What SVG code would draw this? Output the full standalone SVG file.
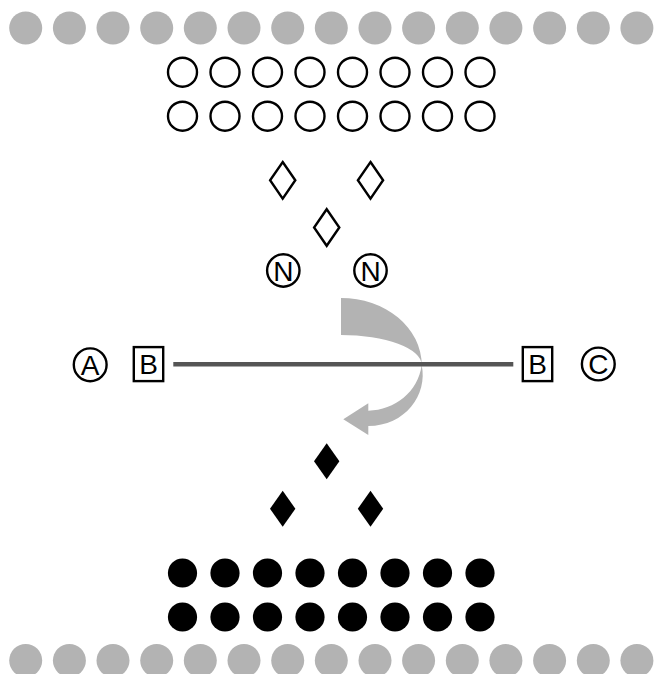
<svg xmlns="http://www.w3.org/2000/svg" width="655" height="674" viewBox="0 0 655 674">
<style>
.g{fill:#b3b3b3}
.o{fill:#fff;stroke:#000;stroke-width:2.4}
.f{fill:#000}
.t{font-family:"Liberation Sans","DejaVu Sans",sans-serif;font-size:28px;fill:#000;text-anchor:middle}
</style>
<defs>
<circle id="gc" r="16.5" class="g"/>
<circle id="oc" r="14.5" class="o"/>
<circle id="fc" r="14.6" class="f"/>
<path id="od" d="M0,-18.3 L12.6,0 L0,18.3 L-12.6,0 Z" class="o" stroke-linejoin="miter"/>
<path id="fd" d="M0,-18 L12.7,0 L0,18 L-12.7,0 Z" class="f"/>
</defs>
<rect width="655" height="674" fill="#fff"/>
<g id="top-gray-row">
<use href="#gc" x="25.7" y="28"/><use href="#gc" x="69.4" y="28"/><use href="#gc" x="113" y="28"/><use href="#gc" x="156.7" y="28"/><use href="#gc" x="200.3" y="28"/><use href="#gc" x="244" y="28"/><use href="#gc" x="287.7" y="28"/><use href="#gc" x="331.3" y="28"/><use href="#gc" x="375" y="28"/><use href="#gc" x="418.6" y="28"/><use href="#gc" x="462.3" y="28"/><use href="#gc" x="505.9" y="28"/><use href="#gc" x="549.6" y="28"/><use href="#gc" x="593.3" y="28"/><use href="#gc" x="636.9" y="28"/>
</g>
<g id="open-circles">
<use href="#oc" x="182.5" y="72.2"/><use href="#oc" x="225" y="72.2"/><use href="#oc" x="267.5" y="72.2"/><use href="#oc" x="310" y="72.2"/><use href="#oc" x="352.5" y="72.2"/><use href="#oc" x="395" y="72.2"/><use href="#oc" x="437.5" y="72.2"/><use href="#oc" x="480" y="72.2"/>
<use href="#oc" x="182.5" y="116.2"/><use href="#oc" x="225" y="116.2"/><use href="#oc" x="267.5" y="116.2"/><use href="#oc" x="310" y="116.2"/><use href="#oc" x="352.5" y="116.2"/><use href="#oc" x="395" y="116.2"/><use href="#oc" x="437.5" y="116.2"/><use href="#oc" x="480" y="116.2"/>
</g>
<g id="open-diamonds">
<use href="#od" x="282.7" y="180.3"/><use href="#od" x="370.5" y="180.3"/><use href="#od" x="326.7" y="227.5"/>
</g>
<g id="N-left"><circle cx="283.3" cy="270.5" r="16.2" class="o"/><text class="t" x="283.3" y="280.5">N</text></g>
<g id="N-right"><circle cx="370.5" cy="270.5" r="16.2" class="o"/><text class="t" x="370.5" y="280.5">N</text></g>
<g id="rotation-arrow" class="g">
<path d="M341,298 A80.7,67 0 0 1 421.7,365 A80.7,30 0 0 0 341,335 Z"/>
<path d="M421.7,365 C428,395 405,426 368.3,426 L368.3,435 L343.3,419.3 L368.3,403.3 L368.3,410.7 C395,410 418,392 421.7,365 Z"/>
</g>
<g id="connectors">
<line x1="173.3" y1="364.2" x2="513.3" y2="364.2" stroke="#555" stroke-width="4.5"/>
</g>
<g id="A"><circle cx="90.2" cy="364.8" r="16.4" class="o"/><text class="t" x="90.2" y="374.8">A</text></g>
<g id="B-left"><rect x="133.8" y="347.1" width="29.4" height="34" class="o"/><text class="t" x="148.5" y="374">B</text></g>
<g id="B-right"><rect x="522.8" y="347.1" width="29.4" height="34" class="o"/><text class="t" x="537.5" y="374">B</text></g>
<g id="C"><circle cx="598.3" cy="364" r="16.4" class="o"/><text class="t" x="598.3" y="374">C</text></g>
<g id="filled-diamonds">
<use href="#fd" x="326.7" y="461.3"/><use href="#fd" x="282.7" y="508.7"/><use href="#fd" x="370.5" y="508.7"/>
</g>
<g id="filled-circles">
<use href="#fc" x="182.5" y="573"/><use href="#fc" x="225" y="573"/><use href="#fc" x="267.5" y="573"/><use href="#fc" x="310" y="573"/><use href="#fc" x="352.5" y="573"/><use href="#fc" x="395" y="573"/><use href="#fc" x="437.5" y="573"/><use href="#fc" x="480" y="573"/>
<use href="#fc" x="182.5" y="617"/><use href="#fc" x="225" y="617"/><use href="#fc" x="267.5" y="617"/><use href="#fc" x="310" y="617"/><use href="#fc" x="352.5" y="617"/><use href="#fc" x="395" y="617"/><use href="#fc" x="437.5" y="617"/><use href="#fc" x="480" y="617"/>
</g>
<g id="bottom-gray-row">
<use href="#gc" x="25.7" y="660.5"/><use href="#gc" x="69.4" y="660.5"/><use href="#gc" x="113" y="660.5"/><use href="#gc" x="156.7" y="660.5"/><use href="#gc" x="200.3" y="660.5"/><use href="#gc" x="244" y="660.5"/><use href="#gc" x="287.7" y="660.5"/><use href="#gc" x="331.3" y="660.5"/><use href="#gc" x="375" y="660.5"/><use href="#gc" x="418.6" y="660.5"/><use href="#gc" x="462.3" y="660.5"/><use href="#gc" x="505.9" y="660.5"/><use href="#gc" x="549.6" y="660.5"/><use href="#gc" x="593.3" y="660.5"/><use href="#gc" x="636.9" y="660.5"/>
</g>
</svg>
